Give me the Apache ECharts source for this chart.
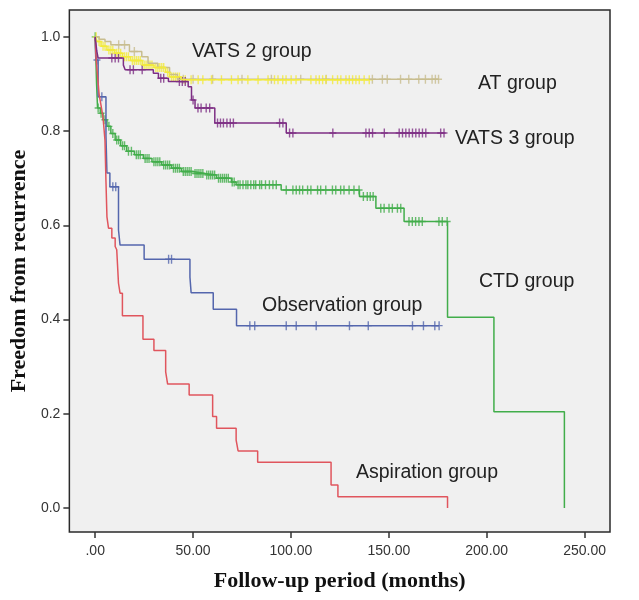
<!DOCTYPE html>
<html><head><meta charset="utf-8">
<script src="https://cdn.jsdelivr.net/npm/echarts@6/dist/echarts.min.js"></script>
<style>html,body{margin:0;padding:0;background:#fff}#c{width:639px;height:600px}</style>
</head><body><div id="c"></div>
<script>
// ---- axis ticks ----
const xTicks = [0, 50, 100, 150, 200, 250];
const yTicks = [0, 0.2, 0.4, 0.6, 0.8, 1.0];

// ---- group labels ----
const groupNames = ['Aspiration group', 'Observation group', 'CTD group', 'VATS 3 group', 'AT group', 'VATS 2 group'];

// ---- Aspiration group (events: time, survival) ----
const aspT = [0, 0.5, 1, 1.5, 2, 3, 4, 4.5, 5, 5.5, 6, 6.8, 8.5, 10.2, 11, 11.9, 12.7, 13.9, 24.4, 30, 36, 37, 48, 60, 62, 72, 73, 83, 120.5, 124, 180];
const aspS = [1, 0.951, 0.927, 0.902, 0.878, 0.854, 0.829, 0.805, 0.78, 0.693, 0.618, 0.594, 0.573, 0.555, 0.548, 0.477, 0.456, 0.408, 0.358, 0.334, 0.289, 0.263, 0.24, 0.194, 0.169, 0.144, 0.121, 0.097, 0.049, 0.024, 0];
const aspCT = [];
const aspCS = [];

// ---- Observation group ----
const obsT = [0, 0.3, 1.5, 5.5, 6, 7.5, 11.9, 12.7, 25, 48.4, 49, 60.3, 72.2, 175.7];
const obsS = [1, 0.951, 0.873, 0.79, 0.711, 0.682, 0.59, 0.558, 0.528, 0.49, 0.457, 0.422, 0.387, 0.387];
const obsCT = [0.9, 3.4, 9, 10.5, 37.5, 39, 79, 81.5, 97.6, 102.7, 112.9, 129.9, 139.5, 162.1, 167.7, 173.5, 175.7];
const obsCS = [0.951, 0.873, 0.682, 0.682, 0.528, 0.528, 0.387, 0.387, 0.387, 0.387, 0.387, 0.387, 0.387, 0.387, 0.387, 0.387, 0.387];

// ---- CTD group ----
const ctdT = [0, 0.3, 0.7, 1.2, 2.6, 4, 6, 8, 10.2, 13, 16.1, 20, 24.6, 29, 34, 39, 44, 50, 56, 62, 69.6, 72, 95, 135, 143.4, 157.8, 180, 203.7, 239.7];
const ctdS = [1, 0.96, 0.9, 0.849, 0.838, 0.824, 0.81, 0.795, 0.781, 0.769, 0.757, 0.75, 0.742, 0.735, 0.728, 0.721, 0.714, 0.71, 0.707, 0.7, 0.692, 0.686, 0.675, 0.661, 0.636, 0.608, 0.405, 0.204, 0];
const ctdCT = [0, 1.5, 3, 5, 7, 9, 11, 12, 14, 15, 17, 18.5, 21, 22, 23, 25.5, 26.5, 27.5, 30, 31, 32, 33, 35, 36, 37, 38, 40, 41, 42, 43, 45, 46, 47, 48, 49, 51, 52, 53, 54, 55, 57, 58, 59, 60, 61, 63, 64, 65, 66, 67, 68, 70, 71, 73, 74, 75.5, 77, 78, 79.5, 81, 82, 84, 85, 87, 89, 90.8, 92.5, 97.6, 101, 102.7, 104.4, 106, 108.5, 110.2, 113.6, 115.2, 117.8, 121.2, 122.9, 125.4, 127.1, 129.7, 132.2, 134.8, 137, 139, 140.5, 142, 145.9, 147.6, 150.1, 151.8, 154.4, 156.1, 160.3, 162, 163.7, 165.4, 167.1, 175.6, 177.3, 179.8];
const ctdCS = [1, 0.849, 0.838, 0.824, 0.81, 0.795, 0.781, 0.781, 0.769, 0.769, 0.757, 0.757, 0.75, 0.75, 0.75, 0.742, 0.742, 0.742, 0.735, 0.735, 0.735, 0.735, 0.728, 0.728, 0.728, 0.728, 0.721, 0.721, 0.721, 0.721, 0.714, 0.714, 0.714, 0.714, 0.714, 0.71, 0.71, 0.71, 0.71, 0.71, 0.707, 0.707, 0.707, 0.707, 0.707, 0.7, 0.7, 0.7, 0.7, 0.7, 0.7, 0.692, 0.692, 0.686, 0.686, 0.686, 0.686, 0.686, 0.686, 0.686, 0.686, 0.686, 0.686, 0.686, 0.686, 0.686, 0.686, 0.675, 0.675, 0.675, 0.675, 0.675, 0.675, 0.675, 0.675, 0.675, 0.675, 0.675, 0.675, 0.675, 0.675, 0.675, 0.675, 0.675, 0.661, 0.661, 0.661, 0.661, 0.636, 0.636, 0.636, 0.636, 0.636, 0.636, 0.608, 0.608, 0.608, 0.608, 0.608, 0.608, 0.608, 0.608];

// ---- VATS 3 group ----
const v3T = [0, 0.8, 1.5, 14.4, 15.3, 29.7, 32.3, 37.4, 47.5, 49.2, 51, 61.1, 97.6, 179];
const v3S = [1, 0.97, 0.955, 0.94, 0.93, 0.923, 0.912, 0.905, 0.894, 0.866, 0.849, 0.817, 0.796, 0.796];
const v3CT = [8.5, 10.2, 11.9, 17.8, 19.5, 24, 33.5, 35, 43, 44.5, 46, 50, 52.5, 54.1, 56.7, 58.5, 62.5, 64, 65.5, 67.3, 69, 70.6, 94.2, 95.9, 99.3, 101, 121.4, 138.3, 140, 141.7, 147.7, 155.3, 157, 158.7, 160.4, 162.1, 163.8, 165.5, 167.2, 168.9, 176.5, 178.2];
const v3CS = [0.955, 0.955, 0.955, 0.93, 0.93, 0.93, 0.912, 0.912, 0.905, 0.905, 0.905, 0.866, 0.849, 0.849, 0.849, 0.849, 0.817, 0.817, 0.817, 0.817, 0.817, 0.817, 0.817, 0.817, 0.796, 0.796, 0.796, 0.796, 0.796, 0.796, 0.796, 0.796, 0.796, 0.796, 0.796, 0.796, 0.796, 0.796, 0.796, 0.796, 0.796, 0.796];

// ---- AT group ----
const atT = [0, 2, 5, 8, 17.5, 23.8, 27, 32, 38, 42, 175.4];
const atS = [1, 0.995, 0.99, 0.983, 0.969, 0.958, 0.944, 0.935, 0.92, 0.91, 0.91];
const atCT = [12, 15, 20, 45, 50, 60, 75, 90, 105, 118, 141.6, 146.7, 149.2, 156, 160.2, 165.3, 168.7, 172.1, 173.8, 175.4];
const atCS = [0.983, 0.983, 0.969, 0.91, 0.91, 0.91, 0.91, 0.91, 0.91, 0.91, 0.91, 0.91, 0.91, 0.91, 0.91, 0.91, 0.91, 0.91, 0.91, 0.91];

// ---- VATS 2 group ----
const v2T = [0, 1, 3, 6, 10, 14, 18, 24, 30, 36, 38, 44, 140];
const v2S = [1, 0.99, 0.98, 0.972, 0.965, 0.958, 0.95, 0.94, 0.935, 0.925, 0.915, 0.909, 0.909];
const v2CT = [0.5, 2, 4, 5, 7, 8, 9, 11, 12, 13, 15, 16, 17, 19, 20, 21, 22, 23, 25, 26, 27, 28, 29, 31, 32, 33, 34, 35, 37, 39, 40, 41, 42, 43, 46, 49, 52.6, 55, 59.4, 64.5, 69.6, 73, 78, 83.2, 88.3, 91.6, 93.4, 95.8, 97.5, 100.1, 102.6, 110.2, 112.8, 114.5, 116.2, 117.9, 121.3, 123.8, 125.5, 128.1, 129.8, 131.5, 133.2, 134.9, 137.4, 140];
const v2CS = [1, 0.99, 0.98, 0.98, 0.972, 0.972, 0.972, 0.965, 0.965, 0.965, 0.958, 0.958, 0.958, 0.95, 0.95, 0.95, 0.95, 0.95, 0.94, 0.94, 0.94, 0.94, 0.94, 0.935, 0.935, 0.935, 0.935, 0.935, 0.925, 0.915, 0.915, 0.915, 0.915, 0.915, 0.909, 0.909, 0.909, 0.909, 0.909, 0.909, 0.909, 0.909, 0.909, 0.909, 0.909, 0.909, 0.909, 0.909, 0.909, 0.909, 0.909, 0.909, 0.909, 0.909, 0.909, 0.909, 0.909, 0.909, 0.909, 0.909, 0.909, 0.909, 0.909, 0.909, 0.909, 0.909];

const colors = {asp: '#e0555d', obs: '#5466ad', ctd: '#41ad4a', v3: '#7d2e84', at: '#c8bd8f', v2: '#f2ea3a'};
const plusSym = 'path://M0,4.2H10V5.8H0Z M4,0H6V10H4Z';

function zip(T, S) { return T.map((t, i) => [t, S[i]]); }
function lineSeries(name, T, S, color) {
  return { name, type: 'line', step: 'end', data: zip(T, S), showSymbol: false, symbol: 'none',
    lineStyle: { color, width: 1.5 }, silent: true, animation: false };
}
function censSeries(name, T, S, color) {
  return { name: name + ' censored', type: 'scatter', data: zip(T, S), symbol: plusSym, symbolSize: [7, 9],
    itemStyle: { color }, silent: true, animation: false };
}

const series = [
  lineSeries(groupNames[2], ctdT, ctdS, colors.ctd), censSeries(groupNames[2], ctdCT, ctdCS, colors.ctd),
  lineSeries(groupNames[1], obsT, obsS, colors.obs), censSeries(groupNames[1], obsCT, obsCS, colors.obs),
  lineSeries(groupNames[0], aspT, aspS, colors.asp), censSeries(groupNames[0], aspCT, aspCS, colors.asp),
  lineSeries(groupNames[4], atT, atS, colors.at), censSeries(groupNames[4], atCT, atCS, colors.at),
  lineSeries(groupNames[5], v2T, v2S, colors.v2), censSeries(groupNames[5], v2CT, v2CS, colors.v2),
  lineSeries(groupNames[3], v3T, v3S, colors.v3), censSeries(groupNames[3], v3CT, v3CS, colors.v3)
];

const labelFont = '19.5px "Liberation Sans", Arial, sans-serif';
function lbl(text, x, y) {
  return { type: 'text', x, y, silent: true, style: { text, fill: '#222', font: labelFont, verticalAlign: 'middle', align: 'left' } };
}

const chart = echarts.init(document.getElementById('c'), null, { renderer: 'canvas' });
chart.setOption({
  animation: false,
  backgroundColor: '#ffffff',
  grid: { left: 67, right: 29, top: 10, bottom: 68, show: true, backgroundColor: '#f0f0f0', borderColor: '#2a2a2a', borderWidth: 1.5 },
  xAxis: {
    type: 'value', min: -13.2, max: 263, position: 'bottom',
    name: 'Follow-up period (months)', nameLocation: 'middle', nameGap: 38,
    nameTextStyle: { fontFamily: '"Liberation Serif", "Times New Roman", serif', fontWeight: 'bold', fontSize: 22, color: '#111' },
    axisLine: { show: false, onZero: false }, splitLine: { show: false },
    axisTick: { show: true, inside: false, customValues: xTicks, length: 6, lineStyle: { color: '#333', width: 1.5 } },
    axisLabel: { customValues: xTicks, margin: 12, fontSize: 14, color: '#333', fontFamily: '"Liberation Sans", Arial, sans-serif',
      formatter: v => v === 0 ? '.00' : v.toFixed(2) }
  },
  yAxis: {
    type: 'value', min: -0.051, max: 1.057, position: 'left',
    name: 'Freedom from recurrence', nameLocation: 'middle', nameGap: 36,
    nameTextStyle: { fontFamily: '"Liberation Serif", "Times New Roman", serif', fontWeight: 'bold', fontSize: 22, color: '#111' },
    axisLine: { show: false, onZero: false }, splitLine: { show: false },
    axisTick: { show: true, inside: false, customValues: yTicks, length: 6, lineStyle: { color: '#333', width: 1.5 } },
    axisLabel: { customValues: yTicks, margin: 9, fontSize: 14, color: '#333', fontFamily: '"Liberation Sans", Arial, sans-serif',
      formatter: v => v.toFixed(1) }
  },
  series,
  graphic: [
    lbl(groupNames[5], 192, 52),
    lbl(groupNames[4], 478, 84),
    lbl(groupNames[3], 455, 139),
    lbl(groupNames[2], 479, 282),
    lbl(groupNames[1], 262, 306),
    lbl(groupNames[0], 356, 473)
  ]
});
</script>
</body></html>
